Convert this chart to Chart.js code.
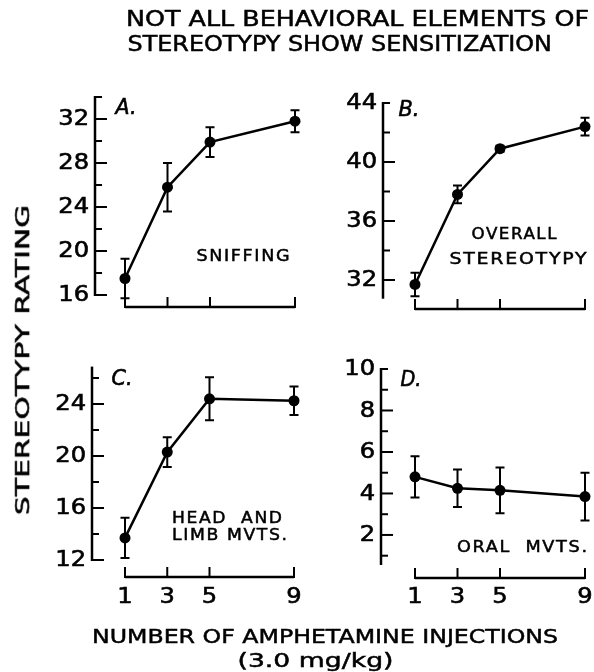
<!DOCTYPE html>
<html>
<head>
<meta charset="utf-8">
<script src="https://cdn.jsdelivr.net/npm/chart.js@4.4.1/dist/chart.umd.min.js"></script>
<style>
  body { margin: 0; background: #fff; }
  #wrap { position: relative; width: 594px; height: 672px; overflow: hidden; }
  #wrap canvas { position: absolute; left: 0; top: 0; }
  .txt { position: absolute; white-space: nowrap; font-family: "DejaVu Sans", sans-serif; color: #000; line-height: 1; -webkit-text-stroke: 0.5px #000; }
</style>
</head>
<body>
<div id="wrap">
  <canvas id="pA" width="594" height="672"></canvas>
  <canvas id="pB" width="594" height="672"></canvas>
  <canvas id="pC" width="594" height="672"></canvas>
  <canvas id="pD" width="594" height="672"></canvas>
</div>
<script>
// data
const injections = [1, 3, 5, 9];
const xTickLabels = ['1', '3', '5', '9'];

const sniffMean = [17.5, 25.8, 29.9, 31.8];
const sniffErr = [1.8, 2.2, 1.35, 1.0];
const overallMean = [31.7, 37.8, 40.9, 42.4];
const overallErr = [0.8, 0.6, 0.2, 0.6];
const headLimbMean = [13.7, 20.3, 24.4, 24.25];
const headLimbErr = [1.55, 1.15, 1.65, 1.1];
const oralMean = [4.8, 4.25, 4.15, 3.85];
const oralErr = [1.0, 0.9, 1.1, 1.15];

const sniffTicks = [16, 20, 24, 28, 32];
const sniffMinor = [18, 22, 26, 30, 34];
const overallTicks = [32, 36, 40, 44];
const overallMinor = [34, 38, 42];
const headLimbTicks = [12, 16, 20, 24];
const headLimbMinor = [14, 18, 22, 26];
const oralTicks = [2, 4, 6, 8, 10];
const oralMinor = [1, 3, 5, 7, 9];

const titleLines = ['NOT ALL BEHAVIORAL ELEMENTS OF', 'STEREOTYPY SHOW SENSITIZATION'];
const xTitleLines = ['NUMBER OF AMPHETAMINE INJECTIONS', '(3.0 mg/kg)'];
const yTitle = 'STEREOTYPY RATING';

const W = 594, H = 672;
const FONT = '"DejaVu Sans", sans-serif';

function drawFit(ctx, text, x, y, width, size, italic, align, spacing, stroke) {
    ctx.font = (italic ? 'italic ' : '') + size + 'px ' + FONT;
    ctx.letterSpacing = (spacing || 0) + 'px';
    const w = ctx.measureText(text).width - (spacing || 0);
    ctx.save();
    ctx.translate(x, y);
    ctx.scale(width ? width / w : 1.15, 1);
    ctx.textAlign = align || 'center';
    ctx.textBaseline = 'middle';
    ctx.fillStyle = '#000';
    ctx.strokeStyle = '#000';
    ctx.lineWidth = stroke === undefined ? 0.6 : stroke;
    const dx = align === 'right' ? 0 : (spacing || 0) / 2;
    ctx.fillText(text, dx, 0);
    if (ctx.lineWidth > 0) ctx.strokeText(text, dx, 0);
    ctx.restore();
    ctx.letterSpacing = '0px';
}

function panelPlugin(p) {
    return {
        id: 'panel' + p.id,
        beforeDatasetsDraw(chart) {
            const ctx = chart.ctx, xs = chart.scales.x, ys = chart.scales.y;
            ctx.save();
            ctx.strokeStyle = '#000';
            ctx.lineWidth = 2;
            injections.forEach((v, i) => {
                const x = xs.getPixelForValue(v);
                const y1 = ys.getPixelForValue(p.mean[i] + p.err[i]);
                const y2 = ys.getPixelForValue(p.mean[i] - p.err[i]);
                ctx.beginPath();
                ctx.moveTo(x, y1); ctx.lineTo(x, y2);
                ctx.moveTo(x - 4.5, y1); ctx.lineTo(x + 4.5, y1);
                ctx.moveTo(x - 4.5, y2); ctx.lineTo(x + 4.5, y2);
                ctx.stroke();
            });
            ctx.restore();
        },
        afterDraw(chart) {
            const ctx = chart.ctx, xs = chart.scales.x, ys = chart.scales.y;
            ctx.save();
            ctx.strokeStyle = '#000';
            ctx.lineCap = 'butt';
            // y axis
            ctx.lineWidth = 2.5;
            ctx.beginPath();
            ctx.moveTo(p.axisX, ys.getPixelForValue(p.yMax) - 1);
            ctx.lineTo(p.axisX, ys.getPixelForValue(p.yMin) + 1);
            ctx.stroke();
            p.major.forEach(v => {
                const y = ys.getPixelForValue(v);
                const len = v === p.yMax ? 7 : 12;
                ctx.strokeStyle = '#000';
                ctx.lineWidth = 2;
                ctx.beginPath(); ctx.moveTo(p.axisX, y); ctx.lineTo(p.axisX + len, y); ctx.stroke();
                drawFit(ctx, String(v), p.axisX - 6, y + 1, 0, 21, false, 'right');
            });
            ctx.lineWidth = 2;
            p.minor.forEach(v => {
                const y = ys.getPixelForValue(v);
                ctx.beginPath(); ctx.moveTo(p.axisX, y); ctx.lineTo(p.axisX + 7, y); ctx.stroke();
            });
            // x bracket
            ctx.lineWidth = 2.5;
            ctx.beginPath();
            ctx.moveTo(xs.getPixelForValue(injections[0]), p.bracketY);
            ctx.lineTo(xs.getPixelForValue(injections[injections.length - 1]), p.bracketY);
            ctx.stroke();
            injections.forEach((v, i) => {
                const x = xs.getPixelForValue(v);
                ctx.lineWidth = 2;
                ctx.beginPath(); ctx.moveTo(x, p.bracketY + 1); ctx.lineTo(x, p.bracketY - 10); ctx.stroke();
                if (p.showX) drawFit(ctx, xTickLabels[i], x, 598, 0, 21, false, 'center');
            });
            // panel letter and inner label
            drawFit(ctx, p.letter, p.letterPos[0], p.letterPos[1], 21, 21, true, 'center');
            p.labels.forEach(l => drawFit(ctx, l.text, l.x, l.y, l.w, 16, false, 'center', 1.5, 0.5));
            ctx.restore();
        }
    };
}

const panels = [
    { id: 'pA', letter: 'A.', mean: sniffMean, err: sniffErr, major: sniffTicks, minor: sniffMinor,
      yMin: 16, yMax: 34, left: 125, right: 295, top: 97, bottom: 295, axisX: 95, bracketY: 307,
      letterPos: [126, 109], showX: false,
      labels: [{ text: 'SNIFFING', x: 243, y: 257, w: 93 }] },
    { id: 'pB', letter: 'B.', mean: overallMean, err: overallErr, major: overallTicks, minor: overallMinor,
      yMin: 30.8, yMax: 44, left: 415, right: 585, top: 103, bottom: 297.7, axisX: 383, bracketY: 309,
      letterPos: [409, 111], showX: false,
      labels: [{ text: 'OVERALL', x: 514, y: 235, w: 85 }, { text: 'STEREOTYPY', x: 518, y: 260, w: 137 }] },
    { id: 'pC', letter: 'C.', mean: headLimbMean, err: headLimbErr, major: headLimbTicks, minor: headLimbMinor,
      yMin: 12, yMax: 26.8, left: 125, right: 294, top: 367.6, bottom: 560, axisX: 92, bracketY: 577,
      letterPos: [122, 380], showX: true,
      labels: [{ text: 'HEAD  AND', x: 227, y: 519, w: 110 }, { text: 'LIMB MVTS.', x: 229.5, y: 536, w: 115 }] },
    { id: 'pD', letter: 'D.', mean: oralMean, err: oralErr, major: oralTicks, minor: oralMinor,
      yMin: 0.6, yMax: 10, left: 415, right: 585, top: 369, bottom: 564, axisX: 381, bracketY: 578,
      letterPos: [411, 381], showX: true,
      labels: [{ text: 'ORAL  MVTS.', x: 522, y: 548, w: 130 }] }
];

panels.forEach(p => {
    new Chart(document.getElementById(p.id), {
        type: 'line',
        data: {
            datasets: [{
                data: injections.map((x, i) => ({ x: x, y: p.mean[i] })),
                borderColor: '#000',
                backgroundColor: '#000',
                borderWidth: 2.5,
                pointRadius: 5.5,
                pointHoverRadius: 5.5,
                pointBorderWidth: 0,
                tension: 0,
                clip: false
            }]
        },
        options: {
            responsive: false,
            animation: false,
            events: [],
            layout: { padding: { left: p.left, right: W - p.right, top: p.top, bottom: H - p.bottom } },
            plugins: { legend: { display: false }, tooltip: { enabled: false }, title: { display: false } },
            scales: {
                x: { type: 'linear', min: 1, max: 9, display: false },
                y: { type: 'linear', min: p.yMin, max: p.yMax, display: false }
            }
        },
        plugins: [panelPlugin(p)]
    });
});

// page texts
function placeText(text, cx, cy, width, size, rot) {
    const el = document.createElement('div');
    el.className = 'txt';
    el.style.fontSize = size + 'px';
    el.textContent = text;
    document.getElementById('wrap').appendChild(el);
    const sx = width / el.offsetWidth;
    el.style.left = (cx - el.offsetWidth / 2) + 'px';
    el.style.top = (cy - el.offsetHeight / 2) + 'px';
    el.style.transform = 'rotate(' + (rot || 0) + 'deg) scale(' + sx + ',1)';
}
placeText(titleLines[0], 357, 19, 463, 21, 0);
placeText(titleLines[1], 340, 44, 425, 21, 0);
placeText(xTitleLines[0], 325, 636, 466, 20, 0);
placeText(xTitleLines[1], 315, 660, 156, 20, 0);
placeText(yTitle, 22, 360, 310, 20, -90);
</script>
</body>
</html>
